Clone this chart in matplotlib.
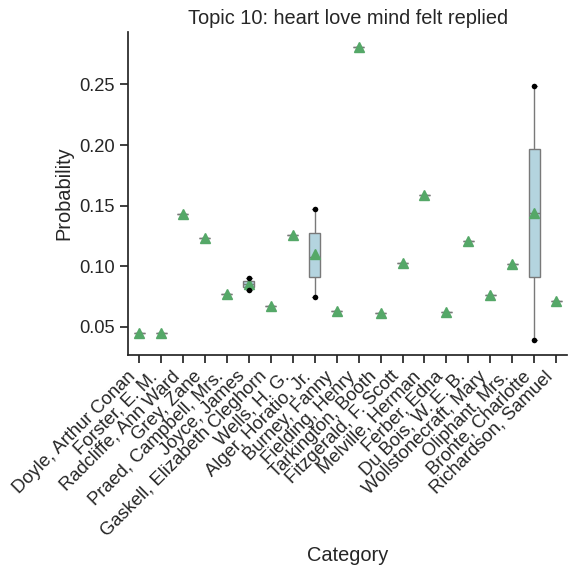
import matplotlib
matplotlib.use("Agg")
import matplotlib.pyplot as plt
import seaborn as sns
import pandas as pd

authors = ["Doyle, Arthur Conan", "Forster, E. M.", "Radcliffe, Ann Ward", "Grey, Zane",
           "Praed, Campbell, Mrs.", "Joyce, James", "Gaskell, Elizabeth Cleghorn", "Wells, H. G.",
           "Alger, Horatio, Jr.", "Burney, Fanny", "Fielding, Henry", "Tarkington, Booth",
           "Fitzgerald, F. Scott", "Melville, Herman", "Ferber, Edna", "Du Bois, W. E. B.",
           "Wollstonecraft, Mary", "Oliphant, Mrs.", "Bronte, Charlotte", "Richardson, Samuel"]
probs = [[0.045], [0.045], [0.143], [0.123], [0.077], [0.080, 0.085, 0.090], [0.067], [0.126],
         [0.075, 0.108, 0.147], [0.063], [0.281], [0.061], [0.103], [0.159], [0.062], [0.121],
         [0.076], [0.102], [0.039, 0.144, 0.249], [0.071]]

rows = [(a, v) for a, vals in zip(authors, probs) for v in vals]
df = pd.DataFrame(rows, columns=["Category", "Probability"])
# min / max dots for authors with several documents
ext = [(a, v) for a, vals in zip(authors, probs) if len(vals) > 1 for v in (min(vals), max(vals))]
ext_df = pd.DataFrame(ext, columns=["Category", "Probability"])

sns.set_theme(style="ticks", font_scale=1.2)
plt.rcParams['font.family'] = ['Liberation Sans', 'DejaVu Sans']
fig, ax = plt.subplots(figsize=(5.77, 5.76), dpi=100)
sns.boxplot(data=df, x="Category", y="Probability", order=authors, color="lightblue",
            width=0.5, showmeans=True, showfliers=False, linewidth=1, ax=ax,
            meanprops=dict(marker="^", markerfacecolor="#55a868", markeredgecolor="#55a868", markersize=7))
sns.stripplot(data=ext_df, x="Category", y="Probability", order=authors, color="black",
              size=4, jitter=False, ax=ax)
ax.set_title("Topic 10: heart love mind felt replied")
plt.setp(ax.get_xticklabels(), rotation=45, ha="right")
ax.set_yticks([0.05, 0.10, 0.15, 0.20, 0.25])
sns.despine(ax=ax)
fig.subplots_adjust(left=0.222, right=0.983, top=0.944, bottom=0.384)
fig.savefig("out.png")
